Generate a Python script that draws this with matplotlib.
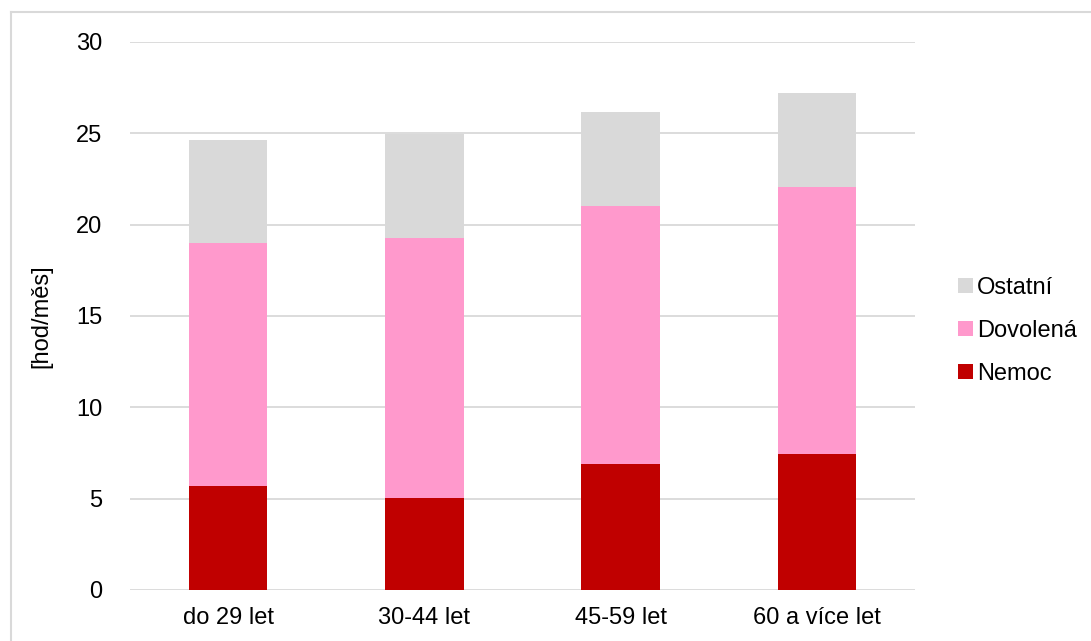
import matplotlib
matplotlib.use("Agg")
import matplotlib.pyplot as plt
from matplotlib.patches import Patch
from matplotlib.lines import Line2D
import numpy as np

plt.rcParams['font.family'] = ['Liberation Sans', 'DejaVu Sans']

categories = ["do 29 let", "30-44 let", "45-59 let", "60 a více let"]
nemoc = [5.69, 5.05, 6.90, 7.44]
dovolena = [13.31, 14.24, 14.12, 14.62]
ostatni = [5.63, 5.67, 5.13, 5.13]
y_ticks = [0, 5, 10, 15, 20, 25, 30]

colors = {"Nemoc": "#c00000", "Dovolená": "#ff99cc", "Ostatní": "#d9d9d9"}

W, H = 1091, 641
fig = plt.figure(figsize=(W / 100, H / 100), dpi=100)
ax = fig.add_axes([130 / W, 1 - 590 / H, (915 - 130) / W, (590 - 42) / H])

x = np.arange(len(categories))
width = 0.40
ax.bar(x, nemoc, width, color=colors["Nemoc"], zorder=3)
bottom2 = np.array(nemoc)
ax.bar(x, dovolena, width, bottom=bottom2, color=colors["Dovolená"], zorder=3)
bottom3 = bottom2 + np.array(dovolena)
ax.bar(x, ostatni, width, bottom=bottom3, color=colors["Ostatní"], zorder=3)

ax.set_xlim(-0.5, len(categories) - 0.5)
ax.set_ylim(0, 30)
ax.set_yticks(y_ticks)
ax.set_xticks(x)
ax.set_xticklabels(categories)
ax.tick_params(axis='both', length=0, labelsize=17, colors='#000000')
ax.tick_params(axis='y', pad=20)
ax.tick_params(axis='x', pad=12)
ax.grid(axis='y', color='#d9d9d9', linewidth=1.3, zorder=0)
for s in ax.spines.values():
    s.set_visible(False)

ax.set_ylabel("[hod/měs]", fontsize=17)
ax.yaxis.set_label_coords(-(130 - 52) / (915 - 130), 0.5)

handles = [Patch(facecolor=colors["Ostatní"]),
           Patch(facecolor=colors["Dovolená"]),
           Patch(facecolor=colors["Nemoc"])]
labels = ["Ostatní", "Dovolená", "Nemoc"]
fig.legend(handles, labels, loc='center left', bbox_to_anchor=(949 / W, 1 - 331 / H),
           frameon=False, fontsize=17, handlelength=0.6, handleheight=0.6,
           handletextpad=0.2, labelspacing=0.9, borderaxespad=0)

# outer chart frame (top and left edges)
fig.add_artist(Line2D([11 / W, 1], [1 - 12 / H, 1 - 12 / H], color='#d9d9d9', linewidth=1.5,
                      transform=fig.transFigure))
fig.add_artist(Line2D([11 / W, 11 / W], [0, 1 - 12 / H], color='#d9d9d9', linewidth=1.5,
                      transform=fig.transFigure))

fig.savefig("out.png", dpi=100, facecolor='white')
